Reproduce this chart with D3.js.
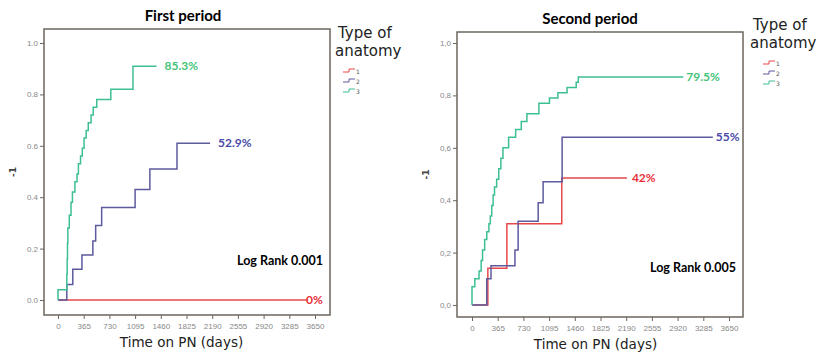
<!DOCTYPE html>
<html>
<head>
<meta charset="utf-8">
<script src="https://cdn.jsdelivr.net/npm/d3@7"></script>
<style>
  body { margin: 0; background: #fff; }
  svg { display: block; font-family: "DejaVu Sans", Verdana, sans-serif; }
</style>
</head>
<body>
<div id="chart"></div>
<script>
// --- data: cumulative incidence steps [time in days, value]
const xTicks = [0, 365, 730, 1095, 1460, 1825, 2190, 2555, 2920, 3285, 3650];
const yTicks = [0, 0.2, 0.4, 0.6, 0.8, 1.0];
const groups = ['1', '2', '3'];

const first1 = [[0, 0], [3550, 0]];
const first2 = [[0, 0], [125, 0.06], [210, 0.12], [340, 0.175], [495, 0.23], [535, 0.29],
  [620, 0.36], [1095, 0.43], [1305, 0.51], [1690, 0.61], [2160, 0.61]];
const first3 = [[0, 0], [0, 0.04], [125, 0.10], [130, 0.16], [135, 0.22], [140, 0.28], [160, 0.33],
  [185, 0.38], [205, 0.42], [240, 0.46], [270, 0.49], [290, 0.53], [320, 0.56], [345, 0.59],
  [370, 0.63], [400, 0.66], [430, 0.69], [470, 0.72], [500, 0.75], [550, 0.78], [750, 0.82],
  [1065, 0.91], [1400, 0.91]];

const second1 = [[0, 0], [225, 0.14], [495, 0.31], [1275, 0.485], [2200, 0.485]];
const second2 = [[0, 0], [210, 0.10], [270, 0.15], [610, 0.21], [655, 0.32], [940, 0.39],
  [1010, 0.47], [1280, 0.64], [3420, 0.64]];
const second3 = [[0, 0], [0, 0.07], [40, 0.10], [100, 0.13], [130, 0.17], [150, 0.21], [180, 0.25],
  [210, 0.28], [240, 0.31], [260, 0.34], [280, 0.38], [300, 0.42], [320, 0.45], [350, 0.48],
  [380, 0.52], [410, 0.56], [440, 0.60], [520, 0.64], [620, 0.67], [700, 0.70], [780, 0.73],
  [950, 0.77], [1100, 0.79], [1220, 0.81], [1350, 0.83], [1480, 0.85], [1510, 0.87], [3000, 0.87]];

const firstLabels = ['0%', '52.9%', '85.3%'];
const secondLabels = ['42%', '55%', '79.5%'];

const lineColors = ['#e8474a', '#5d5a9e', '#3dbf95'];
const textColors = ['#e8303a', '#4a4aa8', '#46c47a'];

const svg = d3.select('#chart').append('svg')
  .attr('width', 816).attr('height', 358);

function drawPanel(opt) {
  const { left, right, top, bottom, y0, y1, x0, x1 } = opt;
  const g = svg.append('g');

  const x = d3.scaleLinear().domain([0, 3650]).range([x0, x1]);
  const y = d3.scaleLinear().domain([0, 1]).range([y0, y1]);

  // frame
  g.append('rect')
    .attr('x', left).attr('y', top)
    .attr('width', right - left).attr('height', bottom - top)
    .attr('fill', 'none').attr('stroke', '#6e655d').attr('stroke-width', 1.5);

  // axes
  const ax = g.append('g').attr('transform', `translate(0,${bottom})`)
    .call(d3.axisBottom(x).tickValues(xTicks).tickSize(4).tickPadding(4)
      .tickFormat(d => String(d)));
  const ay = g.append('g').attr('transform', `translate(${left},0)`)
    .call(d3.axisLeft(y).tickValues(yTicks).tickSize(4).tickPadding(2)
      .tickFormat(d => d3.format('.1f')(d).replace('.', opt.dec)));
  [ax, ay].forEach(a => {
    a.select('.domain').remove();
    a.selectAll('line').attr('stroke', '#6e655d');
    a.selectAll('text').attr('fill', '#888').attr('font-size', 8);
  });

  // curves
  const line = d3.line().curve(d3.curveStepAfter)
    .x(d => x(d[0])).y(d => y(d[1]));
  opt.series.forEach((s, i) => {
    g.append('path').datum(s)
      .attr('fill', 'none').attr('stroke', lineColors[i]).attr('stroke-width', 1.5)
      .attr('d', line);
    const last = s[s.length - 1];
    g.append('text')
      .attr('x', x(last[0]) + (opt.labelDx[i] || 3)).attr('y', y(last[1]) + 4)
      .attr('fill', textColors[i]).attr('font-size', 12).attr('font-weight', 'bold')
      .attr('font-family', 'Lato, sans-serif')
      .text(opt.labels[i]);
  });

  // titles
  g.append('text').attr('x', opt.titleX).attr('y', top - 8)
    .attr('text-anchor', 'middle').attr('font-size', 15).attr('font-weight', 'bold')
    .attr('font-family', 'Lato, sans-serif').text(opt.title);
  g.append('text').attr('x', (x0 + x1) / 2 - 5).attr('y', bottom + 32)
    .attr('text-anchor', 'middle').attr('font-size', 13.5).attr('fill', '#222')
    .text('Time on PN (days)');
  g.append('text')
    .attr('transform', `translate(${left - 28},${(top + bottom) / 2}) rotate(-90)`)
    .attr('text-anchor', 'middle').attr('font-size', 9).attr('font-weight', 'bold')
    .attr('fill', '#444').text('-1');
  g.append('text').attr('x', right - 7).attr('y', opt.rankY)
    .attr('text-anchor', 'end').attr('font-size', 12.5).attr('font-weight', 'bold')
    .attr('font-family', 'Lato, sans-serif').text(opt.rank);

  // legend
  const lg = g.append('g').attr('transform', `translate(${opt.legX},${opt.legY})`);
  lg.append('text').attr('x', 3).attr('y', 0).attr('font-size', 15).attr('fill', '#222').text('Type of');
  lg.append('text').attr('x', 0).attr('y', 18).attr('font-size', 15).attr('fill', '#222').text('anatomy');
  groups.forEach((name, i) => {
    const yy = 34 + i * 10;
    lg.append('path')
      .attr('d', `M${opt.symX},${yy} h6 v-3 h6`)
      .attr('fill', 'none').attr('stroke', lineColors[i]).attr('stroke-width', 1);
    lg.append('text').attr('x', opt.symX + 13).attr('y', yy + 2)
      .attr('font-size', 6).attr('fill', '#555').text(name);
  });
}

drawPanel({
  left: 44, right: 330, top: 29, bottom: 315,
  x0: 58, x1: 315, y0: 300, y1: 43, dec: '.',
  series: [first1, first2, first3], labels: firstLabels, labelDx: [-2, 8, 8],
  title: 'First period', titleX: 183,
  rank: 'Log Rank 0.001', rankY: 265,
  legX: 335, legY: 38, symX: 8
});

drawPanel({
  left: 457, right: 743, top: 32, bottom: 317,
  x0: 472, x1: 729, y0: 305, y1: 43, dec: ',',
  series: [second1, second2, second3], labels: secondLabels, labelDx: [5, 3, 3],
  title: 'Second period', titleX: 590,
  rank: 'Log Rank 0.005', rankY: 272,
  legX: 750, legY: 30, symX: 13
});
</script>
</body>
</html>
